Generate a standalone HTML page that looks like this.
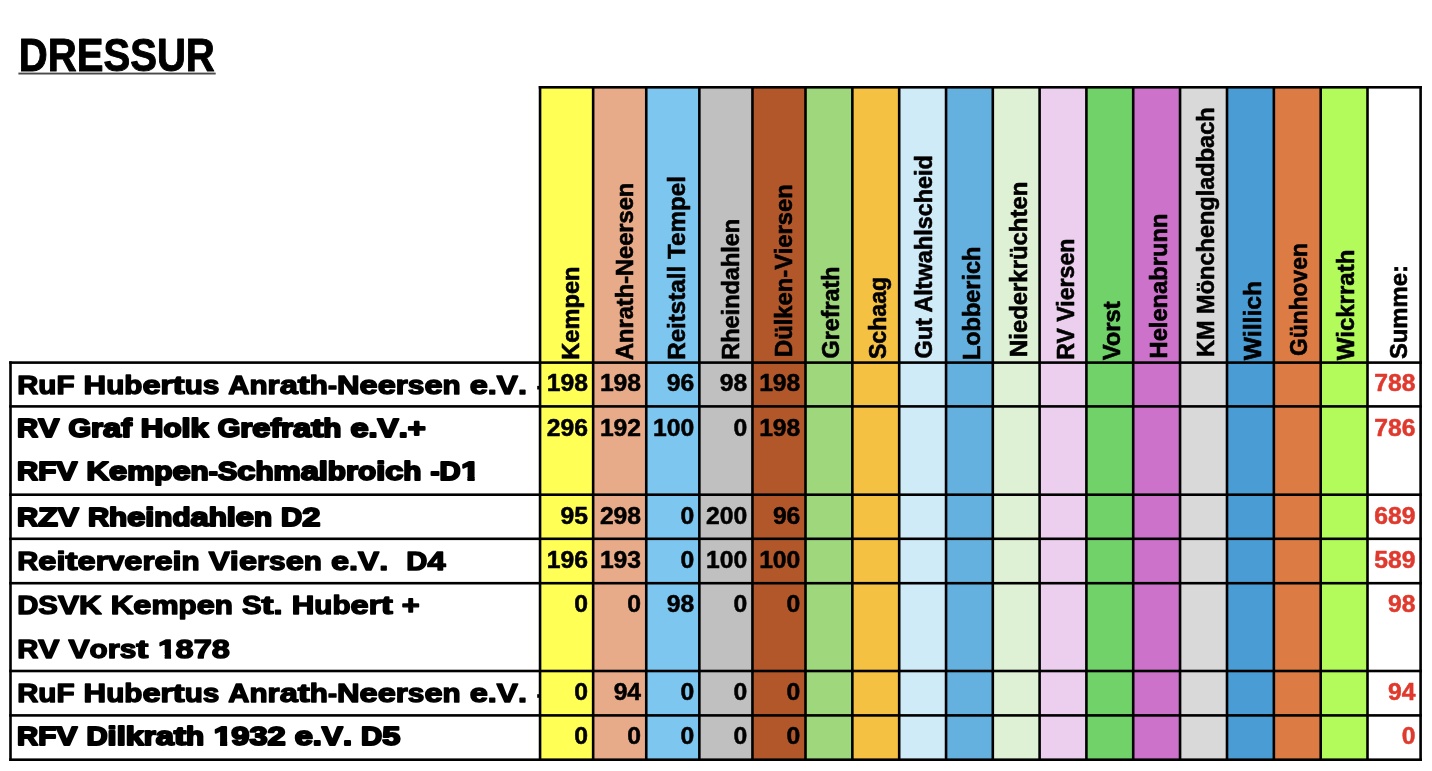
<!DOCTYPE html>
<html lang="de"><head><meta charset="utf-8"><title>DRESSUR</title>
<style>html,body{margin:0;padding:0;background:#fff;}body{width:1432px;height:771px;overflow:hidden;}svg{display:block;will-change:transform;}text{font-family:"Liberation Sans",sans-serif;font-weight:bold;white-space:pre;}</style>
</head><body>
<svg width="1432" height="771" viewBox="0 0 1432 771">
<rect x="0" y="0" width="1432" height="771" fill="#fff"/>
<g>
<rect x="540.05" y="87.30" width="53.10" height="672.40" fill="#ffff55"/>
<rect x="593.15" y="87.30" width="53.10" height="672.40" fill="#e8ab89"/>
<rect x="646.25" y="87.30" width="53.10" height="672.40" fill="#7cc6ef"/>
<rect x="699.35" y="87.30" width="53.10" height="672.40" fill="#c0c0c0"/>
<rect x="752.45" y="87.30" width="53.05" height="672.40" fill="#b2572a"/>
<rect x="805.50" y="87.30" width="46.85" height="672.40" fill="#9fd77d"/>
<rect x="852.35" y="87.30" width="46.85" height="672.40" fill="#f5c142"/>
<rect x="899.20" y="87.30" width="46.85" height="672.40" fill="#d0ebf8"/>
<rect x="946.05" y="87.30" width="46.75" height="672.40" fill="#64b0de"/>
<rect x="992.80" y="87.30" width="46.80" height="672.40" fill="#dff1d5"/>
<rect x="1039.60" y="87.30" width="46.80" height="672.40" fill="#eccfee"/>
<rect x="1086.40" y="87.30" width="46.80" height="672.40" fill="#72d26a"/>
<rect x="1133.20" y="87.30" width="46.85" height="672.40" fill="#cc72cb"/>
<rect x="1180.05" y="87.30" width="46.95" height="672.40" fill="#d9d9d9"/>
<rect x="1227.00" y="87.30" width="46.85" height="672.40" fill="#4a9dd4"/>
<rect x="1273.85" y="87.30" width="46.85" height="672.40" fill="#dc7b43"/>
<rect x="1320.70" y="87.30" width="46.80" height="672.40" fill="#b2fb5a"/>
<rect x="1367.50" y="87.30" width="53.10" height="672.40" fill="#ffffff"/>
</g>
<text x="18.80" y="70.60" font-size="45.60" textLength="196.00" lengthAdjust="spacingAndGlyphs" stroke="#000" stroke-width="1.00" stroke-linejoin="round">DRESSUR</text>
<rect x="18.4" y="72.6" width="197.3" height="1.9" fill="#4a4a4a"/>
<clipPath id="lc"><rect x="10.50" y="362.60" width="529.55" height="397.10"/></clipPath>
<g clip-path="url(#lc)" stroke="#000" stroke-linejoin="round">
<g font-size="26.20" stroke-width="1.40">
<text transform="translate(17.20 393.60) scale(1.1164 1)">R</text>
<text transform="translate(38.32 393.60) scale(1.1315 1)">u</text>
<text transform="translate(56.43 393.60) scale(1.1315 1)">F</text>
<text transform="translate(83.58 393.60) scale(1.1953 1)">H</text>
<text transform="translate(106.20 393.60) scale(1.1315 1)">u</text>
<text transform="translate(124.31 393.60) scale(1.1315 1)">b</text>
<text transform="translate(142.42 393.60) scale(1.2428 1)">e</text>
<text transform="translate(160.52 393.60) scale(1.1823 1)">r</text>
<text transform="translate(172.58 393.60) scale(1.3816 1)">t</text>
<text transform="translate(184.63 393.60) scale(1.1315 1)">u</text>
<text transform="translate(202.74 393.60) scale(1.1385 1)">s</text>
<text transform="translate(228.37 393.60) scale(1.1164 1)">A</text>
<text transform="translate(249.50 393.60) scale(1.1315 1)">n</text>
<text transform="translate(267.60 393.60) scale(1.1823 1)">r</text>
<text transform="translate(279.66 393.60) scale(1.2428 1)">a</text>
<text transform="translate(297.77 393.60) scale(1.3816 1)">t</text>
<text transform="translate(309.82 393.60) scale(1.1315 1)">h</text>
<text transform="translate(327.93 393.60) scale(1.0362 1)">-</text>
<text transform="translate(336.97 393.60) scale(1.1953 1)">N</text>
<text transform="translate(359.59 393.60) scale(1.2428 1)">e</text>
<text transform="translate(377.70 393.60) scale(1.2428 1)">e</text>
<text transform="translate(395.81 393.60) scale(1.1823 1)">r</text>
<text transform="translate(407.86 393.60) scale(1.1385 1)">s</text>
<text transform="translate(424.45 393.60) scale(1.2428 1)">e</text>
<text transform="translate(442.56 393.60) scale(1.1315 1)">n</text>
<text transform="translate(469.71 393.60) scale(1.2428 1)">e</text>
<text transform="translate(487.82 393.60) scale(1.2420 1)">.</text>
<text transform="translate(496.86 393.60) scale(1.2087 1)">V</text>
<text transform="translate(517.98 393.60) scale(1.2420 1)">.</text>
</g>
<g font-size="26.00" stroke-width="2.00">
<text transform="translate(17.10 437.00) scale(1.1250 1)">R</text>
<text transform="translate(38.22 437.00) scale(1.2180 1)">V</text>
<text transform="translate(68.39 437.00) scale(1.1183 1)">G</text>
<text transform="translate(91.00 437.00) scale(1.1914 1)">r</text>
<text transform="translate(103.06 437.00) scale(1.2524 1)">a</text>
<text transform="translate(121.17 437.00) scale(1.2198 1)">f</text>
<text transform="translate(140.77 437.00) scale(1.2045 1)">H</text>
<text transform="translate(163.38 437.00) scale(1.1402 1)">o</text>
<text transform="translate(181.49 437.00) scale(1.2516 1)">l</text>
<text transform="translate(190.53 437.00) scale(1.2524 1)">k</text>
<text transform="translate(217.68 437.00) scale(1.1183 1)">G</text>
<text transform="translate(240.30 437.00) scale(1.1914 1)">r</text>
<text transform="translate(252.35 437.00) scale(1.2524 1)">e</text>
<text transform="translate(270.46 437.00) scale(1.2198 1)">f</text>
<text transform="translate(281.03 437.00) scale(1.1914 1)">r</text>
<text transform="translate(293.08 437.00) scale(1.2524 1)">a</text>
<text transform="translate(311.19 437.00) scale(1.3923 1)">t</text>
<text transform="translate(323.24 437.00) scale(1.1402 1)">h</text>
<text transform="translate(350.39 437.00) scale(1.2524 1)">e</text>
<text transform="translate(368.50 437.00) scale(1.2516 1)">.</text>
<text transform="translate(377.54 437.00) scale(1.2180 1)">V</text>
<text transform="translate(398.67 437.00) scale(1.2516 1)">.</text>
<text transform="translate(407.71 437.00) scale(1.1802 1)">+</text>
</g>
<g font-size="26.00" stroke-width="2.00">
<clipPath id="c11" clipPathUnits="userSpaceOnUse"><path d="M-5 -40H40V-4.35H10.69V6H5.02V-4.35H-5Z"/></clipPath>
<text transform="translate(17.10 480.30) scale(1.1250 1)">R</text>
<text transform="translate(38.22 480.30) scale(1.1402 1)">F</text>
<text transform="translate(56.33 480.30) scale(1.2180 1)">V</text>
<text transform="translate(86.50 480.30) scale(1.2045 1)">K</text>
<text transform="translate(109.11 480.30) scale(1.2524 1)">e</text>
<text transform="translate(127.22 480.30) scale(1.1744 1)">m</text>
<text transform="translate(154.37 480.30) scale(1.1402 1)">p</text>
<text transform="translate(172.48 480.30) scale(1.2524 1)">e</text>
<text transform="translate(190.59 480.30) scale(1.1402 1)">n</text>
<text transform="translate(208.70 480.30) scale(1.0442 1)">-</text>
<text transform="translate(217.74 480.30) scale(1.1303 1)">S</text>
<text transform="translate(237.34 480.30) scale(1.2524 1)">c</text>
<text transform="translate(255.45 480.30) scale(1.1402 1)">h</text>
<text transform="translate(273.56 480.30) scale(1.1744 1)">m</text>
<text transform="translate(300.71 480.30) scale(1.2524 1)">a</text>
<text transform="translate(318.82 480.30) scale(1.2516 1)">l</text>
<text transform="translate(327.86 480.30) scale(1.1402 1)">b</text>
<text transform="translate(345.97 480.30) scale(1.1914 1)">r</text>
<text transform="translate(358.02 480.30) scale(1.1402 1)">o</text>
<text transform="translate(376.13 480.30) scale(1.2516 1)">i</text>
<text transform="translate(385.17 480.30) scale(1.2524 1)">c</text>
<text transform="translate(403.28 480.30) scale(1.1402 1)">h</text>
<text transform="translate(430.43 480.30) scale(1.0442 1)">-</text>
<text transform="translate(439.47 480.30) scale(1.1250 1)">D</text>
<text transform="translate(461.20 480.30) scale(1.2524 1)" clip-path="url(#c11)">1</text>
</g>
<g font-size="26.00" stroke-width="2.00">
<text transform="translate(17.10 525.50) scale(1.1250 1)">R</text>
<text transform="translate(38.22 525.50) scale(1.2343 1)">Z</text>
<text transform="translate(57.83 525.50) scale(1.2180 1)">V</text>
<text transform="translate(87.99 525.50) scale(1.1250 1)">R</text>
<text transform="translate(109.11 525.50) scale(1.1402 1)">h</text>
<text transform="translate(127.22 525.50) scale(1.2524 1)">e</text>
<text transform="translate(145.33 525.50) scale(1.2516 1)">i</text>
<text transform="translate(154.37 525.50) scale(1.1402 1)">n</text>
<text transform="translate(172.48 525.50) scale(1.1402 1)">d</text>
<text transform="translate(190.59 525.50) scale(1.2524 1)">a</text>
<text transform="translate(208.70 525.50) scale(1.1402 1)">h</text>
<text transform="translate(226.81 525.50) scale(1.2516 1)">l</text>
<text transform="translate(235.85 525.50) scale(1.2524 1)">e</text>
<text transform="translate(253.96 525.50) scale(1.1402 1)">n</text>
<text transform="translate(281.11 525.50) scale(1.1250 1)">D</text>
<text transform="translate(302.23 525.50) scale(1.2524 1)">2</text>
</g>
<g font-size="26.20" stroke-width="1.40">
<text transform="translate(17.20 570.00) scale(1.1164 1)">R</text>
<text transform="translate(38.32 570.00) scale(1.2428 1)">e</text>
<text transform="translate(56.43 570.00) scale(1.2420 1)">i</text>
<text transform="translate(65.47 570.00) scale(1.3816 1)">t</text>
<text transform="translate(77.53 570.00) scale(1.2428 1)">e</text>
<text transform="translate(95.64 570.00) scale(1.1823 1)">r</text>
<text transform="translate(107.69 570.00) scale(1.1385 1)">v</text>
<text transform="translate(124.28 570.00) scale(1.2428 1)">e</text>
<text transform="translate(142.39 570.00) scale(1.1823 1)">r</text>
<text transform="translate(154.44 570.00) scale(1.2428 1)">e</text>
<text transform="translate(172.55 570.00) scale(1.2420 1)">i</text>
<text transform="translate(181.59 570.00) scale(1.1315 1)">n</text>
<text transform="translate(208.74 570.00) scale(1.2087 1)">V</text>
<text transform="translate(229.87 570.00) scale(1.2420 1)">i</text>
<text transform="translate(238.91 570.00) scale(1.2428 1)">e</text>
<text transform="translate(257.02 570.00) scale(1.1823 1)">r</text>
<text transform="translate(269.07 570.00) scale(1.1385 1)">s</text>
<text transform="translate(285.66 570.00) scale(1.2428 1)">e</text>
<text transform="translate(303.77 570.00) scale(1.1315 1)">n</text>
<text transform="translate(330.92 570.00) scale(1.2428 1)">e</text>
<text transform="translate(349.03 570.00) scale(1.2420 1)">.</text>
<text transform="translate(358.07 570.00) scale(1.2087 1)">V</text>
<text transform="translate(379.19 570.00) scale(1.2420 1)">.</text>
<text transform="translate(406.31 570.00) scale(1.1164 1)">D</text>
<text transform="translate(427.44 570.00) scale(1.2428 1)">4</text>
</g>
<g font-size="26.20" stroke-width="1.40">
<text transform="translate(17.20 613.80) scale(1.1164 1)">D</text>
<text transform="translate(38.32 613.80) scale(1.1217 1)">S</text>
<text transform="translate(57.92 613.80) scale(1.2087 1)">V</text>
<text transform="translate(79.05 613.80) scale(1.1953 1)">K</text>
<text transform="translate(110.70 613.80) scale(1.1953 1)">K</text>
<text transform="translate(133.32 613.80) scale(1.2428 1)">e</text>
<text transform="translate(151.43 613.80) scale(1.1654 1)">m</text>
<text transform="translate(178.58 613.80) scale(1.1315 1)">p</text>
<text transform="translate(196.69 613.80) scale(1.2428 1)">e</text>
<text transform="translate(214.80 613.80) scale(1.1315 1)">n</text>
<text transform="translate(241.95 613.80) scale(1.1217 1)">S</text>
<text transform="translate(261.55 613.80) scale(1.3816 1)">t</text>
<text transform="translate(273.60 613.80) scale(1.2420 1)">.</text>
<text transform="translate(291.69 613.80) scale(1.1953 1)">H</text>
<text transform="translate(314.30 613.80) scale(1.1315 1)">u</text>
<text transform="translate(332.41 613.80) scale(1.1315 1)">b</text>
<text transform="translate(350.52 613.80) scale(1.2428 1)">e</text>
<text transform="translate(368.63 613.80) scale(1.1823 1)">r</text>
<text transform="translate(380.68 613.80) scale(1.3816 1)">t</text>
<text transform="translate(401.78 613.80) scale(1.1711 1)">+</text>
</g>
<g font-size="26.20" stroke-width="1.40">
<clipPath id="c10" clipPathUnits="userSpaceOnUse"><path d="M-5 -40H40V-4.07H10.46V6H5.37V-4.07H-5Z"/></clipPath>
<text transform="translate(17.20 657.80) scale(1.1164 1)">R</text>
<text transform="translate(38.32 657.80) scale(1.2087 1)">V</text>
<text transform="translate(68.49 657.80) scale(1.2087 1)">V</text>
<text transform="translate(89.61 657.80) scale(1.1315 1)">o</text>
<text transform="translate(107.72 657.80) scale(1.1823 1)">r</text>
<text transform="translate(119.77 657.80) scale(1.1385 1)">s</text>
<text transform="translate(136.36 657.80) scale(1.3816 1)">t</text>
<text transform="translate(158.06 657.80) scale(1.2428 1)" clip-path="url(#c10)">1</text>
<text transform="translate(175.57 657.80) scale(1.2428 1)">8</text>
<text transform="translate(193.67 657.80) scale(1.2428 1)">7</text>
<text transform="translate(211.78 657.80) scale(1.2428 1)">8</text>
</g>
<g font-size="26.20" stroke-width="1.40">
<text transform="translate(17.20 701.90) scale(1.1164 1)">R</text>
<text transform="translate(38.32 701.90) scale(1.1315 1)">u</text>
<text transform="translate(56.43 701.90) scale(1.1315 1)">F</text>
<text transform="translate(83.58 701.90) scale(1.1953 1)">H</text>
<text transform="translate(106.20 701.90) scale(1.1315 1)">u</text>
<text transform="translate(124.31 701.90) scale(1.1315 1)">b</text>
<text transform="translate(142.42 701.90) scale(1.2428 1)">e</text>
<text transform="translate(160.52 701.90) scale(1.1823 1)">r</text>
<text transform="translate(172.58 701.90) scale(1.3816 1)">t</text>
<text transform="translate(184.63 701.90) scale(1.1315 1)">u</text>
<text transform="translate(202.74 701.90) scale(1.1385 1)">s</text>
<text transform="translate(228.37 701.90) scale(1.1164 1)">A</text>
<text transform="translate(249.50 701.90) scale(1.1315 1)">n</text>
<text transform="translate(267.60 701.90) scale(1.1823 1)">r</text>
<text transform="translate(279.66 701.90) scale(1.2428 1)">a</text>
<text transform="translate(297.77 701.90) scale(1.3816 1)">t</text>
<text transform="translate(309.82 701.90) scale(1.1315 1)">h</text>
<text transform="translate(327.93 701.90) scale(1.0362 1)">-</text>
<text transform="translate(336.97 701.90) scale(1.1953 1)">N</text>
<text transform="translate(359.59 701.90) scale(1.2428 1)">e</text>
<text transform="translate(377.70 701.90) scale(1.2428 1)">e</text>
<text transform="translate(395.81 701.90) scale(1.1823 1)">r</text>
<text transform="translate(407.86 701.90) scale(1.1385 1)">s</text>
<text transform="translate(424.45 701.90) scale(1.2428 1)">e</text>
<text transform="translate(442.56 701.90) scale(1.1315 1)">n</text>
<text transform="translate(469.71 701.90) scale(1.2428 1)">e</text>
<text transform="translate(487.82 701.90) scale(1.2420 1)">.</text>
<text transform="translate(496.86 701.90) scale(1.2087 1)">V</text>
<text transform="translate(517.98 701.90) scale(1.2420 1)">.</text>
</g>
<g font-size="26.00" stroke-width="2.00">
<text transform="translate(17.10 745.30) scale(1.1250 1)">R</text>
<text transform="translate(38.22 745.30) scale(1.1402 1)">F</text>
<text transform="translate(56.33 745.30) scale(1.2180 1)">V</text>
<text transform="translate(86.50 745.30) scale(1.1250 1)">D</text>
<text transform="translate(107.62 745.30) scale(1.2516 1)">i</text>
<text transform="translate(116.66 745.30) scale(1.2516 1)">l</text>
<text transform="translate(125.70 745.30) scale(1.2524 1)">k</text>
<text transform="translate(143.81 745.30) scale(1.1914 1)">r</text>
<text transform="translate(155.86 745.30) scale(1.2524 1)">a</text>
<text transform="translate(173.97 745.30) scale(1.3923 1)">t</text>
<text transform="translate(186.03 745.30) scale(1.1402 1)">h</text>
<text transform="translate(213.78 745.30) scale(1.2524 1)" clip-path="url(#c11)">1</text>
<text transform="translate(231.29 745.30) scale(1.2524 1)">9</text>
<text transform="translate(249.40 745.30) scale(1.2524 1)">3</text>
<text transform="translate(267.50 745.30) scale(1.2524 1)">2</text>
<text transform="translate(294.65 745.30) scale(1.2524 1)">e</text>
<text transform="translate(312.76 745.30) scale(1.2516 1)">.</text>
<text transform="translate(321.80 745.30) scale(1.2180 1)">V</text>
<text transform="translate(342.93 745.30) scale(1.2516 1)">.</text>
<text transform="translate(361.01 745.30) scale(1.1250 1)">D</text>
<text transform="translate(382.13 745.30) scale(1.2524 1)">5</text>
</g>
</g>
<rect x="537.2" y="385.90" width="2" height="3.6" fill="#000"/>
<rect x="537.2" y="694.20" width="2" height="3.6" fill="#000"/>
<g font-size="23.60" text-anchor="end" stroke-width="0.50" stroke-linejoin="round">
<text transform="translate(588.01 390.90) scale(1.0470 1)" stroke="#000">198</text>
<text transform="translate(641.11 390.90) scale(1.0470 1)" stroke="#000">198</text>
<text transform="translate(694.21 390.90) scale(1.0470 1)" stroke="#000">96</text>
<text transform="translate(747.31 390.90) scale(1.0470 1)" stroke="#000">98</text>
<text transform="translate(800.36 390.90) scale(1.0470 1)" stroke="#000">198</text>
<text transform="translate(1415.46 390.90) scale(1.0470 1)" fill="#e0392d" stroke="#e0392d">788</text>
<text transform="translate(588.01 435.90) scale(1.0470 1)" stroke="#000">296</text>
<text transform="translate(641.11 435.90) scale(1.0470 1)" stroke="#000">192</text>
<text transform="translate(694.21 435.90) scale(1.0470 1)" stroke="#000">100</text>
<text transform="translate(747.31 435.90) scale(1.0470 1)" stroke="#000">0</text>
<text transform="translate(800.36 435.90) scale(1.0470 1)" stroke="#000">198</text>
<text transform="translate(1415.46 435.90) scale(1.0470 1)" fill="#e0392d" stroke="#e0392d">786</text>
<text transform="translate(588.01 524.30) scale(1.0470 1)" stroke="#000">95</text>
<text transform="translate(641.11 524.30) scale(1.0470 1)" stroke="#000">298</text>
<text transform="translate(694.21 524.30) scale(1.0470 1)" stroke="#000">0</text>
<text transform="translate(747.31 524.30) scale(1.0470 1)" stroke="#000">200</text>
<text transform="translate(800.36 524.30) scale(1.0470 1)" stroke="#000">96</text>
<text transform="translate(1415.46 524.30) scale(1.0470 1)" fill="#e0392d" stroke="#e0392d">689</text>
<text transform="translate(588.01 568.00) scale(1.0470 1)" stroke="#000">196</text>
<text transform="translate(641.11 568.00) scale(1.0470 1)" stroke="#000">193</text>
<text transform="translate(694.21 568.00) scale(1.0470 1)" stroke="#000">0</text>
<text transform="translate(747.31 568.00) scale(1.0470 1)" stroke="#000">100</text>
<text transform="translate(800.36 568.00) scale(1.0470 1)" stroke="#000">100</text>
<text transform="translate(1415.46 568.00) scale(1.0470 1)" fill="#e0392d" stroke="#e0392d">589</text>
<text transform="translate(588.01 611.90) scale(1.0470 1)" stroke="#000">0</text>
<text transform="translate(641.11 611.90) scale(1.0470 1)" stroke="#000">0</text>
<text transform="translate(694.21 611.90) scale(1.0470 1)" stroke="#000">98</text>
<text transform="translate(747.31 611.90) scale(1.0470 1)" stroke="#000">0</text>
<text transform="translate(800.36 611.90) scale(1.0470 1)" stroke="#000">0</text>
<text transform="translate(1415.46 611.90) scale(1.0470 1)" fill="#e0392d" stroke="#e0392d">98</text>
<text transform="translate(588.01 700.10) scale(1.0470 1)" stroke="#000">0</text>
<text transform="translate(641.11 700.10) scale(1.0470 1)" stroke="#000">94</text>
<text transform="translate(694.21 700.10) scale(1.0470 1)" stroke="#000">0</text>
<text transform="translate(747.31 700.10) scale(1.0470 1)" stroke="#000">0</text>
<text transform="translate(800.36 700.10) scale(1.0470 1)" stroke="#000">0</text>
<text transform="translate(1415.46 700.10) scale(1.0470 1)" fill="#e0392d" stroke="#e0392d">94</text>
<text transform="translate(588.01 744.40) scale(1.0470 1)" stroke="#000">0</text>
<text transform="translate(641.11 744.40) scale(1.0470 1)" stroke="#000">0</text>
<text transform="translate(694.21 744.40) scale(1.0470 1)" stroke="#000">0</text>
<text transform="translate(747.31 744.40) scale(1.0470 1)" stroke="#000">0</text>
<text transform="translate(800.36 744.40) scale(1.0470 1)" stroke="#000">0</text>
<text transform="translate(1415.46 744.40) scale(1.0470 1)" fill="#e0392d" stroke="#e0392d">0</text>
</g>
<g font-size="24.20" stroke="#000" stroke-width="0.60" stroke-linejoin="round">
<text transform="translate(579.20 359.82) rotate(-90) scale(0.9779 1)">Kempen</text>
<text transform="translate(632.50 360.01) rotate(-90) scale(0.9773 1)">Anrath-Neersen</text>
<text transform="translate(685.30 359.84) rotate(-90) scale(1.0000 1)">Reitstall Tempel</text>
<text transform="translate(739.20 359.76) rotate(-90) scale(0.9710 1)">Rheindahlen</text>
<text transform="translate(791.70 357.03) rotate(-90) scale(0.9835 1)">Dülken-Viersen</text>
<text transform="translate(838.90 358.46) rotate(-90) scale(0.9652 1)">Grefrath</text>
<text transform="translate(885.70 359.06) rotate(-90) scale(0.9560 1)">Schaag</text>
<text transform="translate(932.40 358.44) rotate(-90) scale(0.9673 1)">Gut Altwahlscheid</text>
<text transform="translate(979.70 360.06) rotate(-90) scale(0.9707 1)">Lobberich</text>
<text transform="translate(1026.50 357.01) rotate(-90) scale(0.9878 1)">Niederkrüchten</text>
<text transform="translate(1073.70 359.72) rotate(-90) scale(0.9544 1)">RV Viersen</text>
<text transform="translate(1120.00 360.23) rotate(-90) scale(0.9820 1)">Vorst</text>
<text transform="translate(1166.80 358.46) rotate(-90) scale(0.9800 1)">Helenabrunn</text>
<text transform="translate(1213.60 357.02) rotate(-90) scale(0.9723 1)">KM Mönchengladbach</text>
<text transform="translate(1261.10 360.24) rotate(-90) scale(1.0201 1)">Willich</text>
<text transform="translate(1307.30 356.00) rotate(-90) scale(0.9435 1)">Günhoven</text>
<text transform="translate(1354.40 360.23) rotate(-90) scale(0.9926 1)">Wickrrath</text>
<text transform="translate(1406.90 359.06) rotate(-90) scale(0.9843 1)">Summe:</text>
</g>
<g fill="#000">
<rect x="538.75" y="86.00" width="2.60" height="675.00"/>
<rect x="591.85" y="86.00" width="2.60" height="675.00"/>
<rect x="644.95" y="86.00" width="2.60" height="675.00"/>
<rect x="698.05" y="86.00" width="2.60" height="675.00"/>
<rect x="751.15" y="86.00" width="2.60" height="675.00"/>
<rect x="804.20" y="86.00" width="2.60" height="675.00"/>
<rect x="851.05" y="86.00" width="2.60" height="675.00"/>
<rect x="897.90" y="86.00" width="2.60" height="675.00"/>
<rect x="944.75" y="86.00" width="2.60" height="675.00"/>
<rect x="991.50" y="86.00" width="2.60" height="675.00"/>
<rect x="1038.30" y="86.00" width="2.60" height="675.00"/>
<rect x="1085.10" y="86.00" width="2.60" height="675.00"/>
<rect x="1131.90" y="86.00" width="2.60" height="675.00"/>
<rect x="1178.75" y="86.00" width="2.60" height="675.00"/>
<rect x="1225.70" y="86.00" width="2.60" height="675.00"/>
<rect x="1272.55" y="86.00" width="2.60" height="675.00"/>
<rect x="1319.40" y="86.00" width="2.60" height="675.00"/>
<rect x="1366.20" y="86.00" width="2.60" height="675.00"/>
<rect x="1419.30" y="86.00" width="2.60" height="675.00"/>
<rect x="9.20" y="361.30" width="2.60" height="399.70"/>
<rect x="538.75" y="86.00" width="883.15" height="2.60"/>
<rect x="9.20" y="361.30" width="1412.70" height="2.60"/>
<rect x="9.20" y="405.10" width="1412.70" height="2.60"/>
<rect x="9.20" y="493.40" width="1412.70" height="2.60"/>
<rect x="9.20" y="537.50" width="1412.70" height="2.60"/>
<rect x="9.20" y="581.90" width="1412.70" height="2.60"/>
<rect x="9.20" y="669.70" width="1412.70" height="2.60"/>
<rect x="9.20" y="714.10" width="1412.70" height="2.60"/>
<rect x="9.20" y="758.40" width="1412.70" height="2.60"/>
</g>
</svg></body></html>
